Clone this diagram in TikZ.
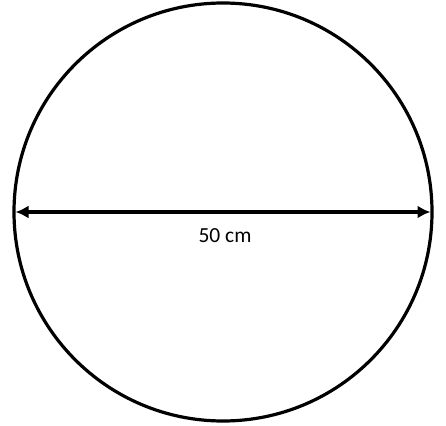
\documentclass[tikz,border=0pt]{standalone}
\usepackage{fontspec}
\setmainfont{Carlito}
\usetikzlibrary{arrows.meta}
\tikzset{
  outline/.style={draw=black, line width=3.2pt},
  dimline/.style={draw=black, line width=3.2pt, {Latex[length=13pt,width=13pt]}-{Latex[length=13pt,width=13pt]}},
  dimlabel/.style={font=\fontsize{21.5}{24}\selectfont, inner sep=0pt}
}
\begin{document}
\begin{tikzpicture}[x=1pt,y=-1pt]
\useasboundingbox (0,0) rectangle (446,425);
\node[outline, circle, minimum size=418pt, inner sep=0pt] (c) at (223,212) {};
\coordinate (l) at (15.5,212);
\coordinate (r) at (430.5,212);
\draw[dimline] (l) -- (r);
\node[dimlabel] (lab) at (225,236) {50 cm};
\end{tikzpicture}
\end{document}
